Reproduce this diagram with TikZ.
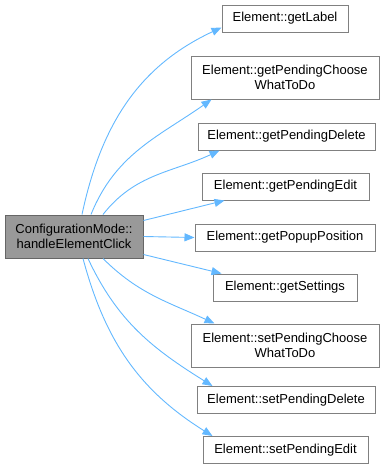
\documentclass[tikz,border=0pt]{standalone}
\usepackage{fontspec}
\setmainfont{Liberation Sans}
\usetikzlibrary{arrows.meta}
\definecolor{edgeblue}{HTML}{63B8FF}
\definecolor{boxline}{HTML}{808080}
\definecolor{mainfill}{HTML}{999999}
\definecolor{mainline}{HTML}{666666}
\tikzset{
  fn/.style={draw=boxline, fill=white, line width=1pt, inner sep=0pt,
    align=center, font=\fontsize{13}{15}\selectfont, text=black},
  mainfn/.style={fn, fill=mainfill, draw=mainline},
  call/.style={draw=edgeblue, line width=0.9pt,
    -{Triangle[length=10pt,width=8pt]}},
}
\begin{document}
\begin{tikzpicture}[x=1pt, y=-1pt]
\useasboundingbox (0,0) rectangle (384,475);

% caller
\node[mainfn, minimum width=138pt, minimum height=43pt] (main) at (74,236.5)
  {ConfigurationMode::\\handleElementClick};

% callees
\node[fn, minimum width=126pt, minimum height=27pt] (getLabel) at (285,18.5) {Element::getLabel};
\node[fn, minimum width=188pt, minimum height=43pt] (getChoose) at (285,77.5) {Element::getPendingChoose\\WhatToDo};
\node[fn, minimum width=177pt, minimum height=27pt] (getDelete) at (286.5,136.5) {Element::getPendingDelete};
\node[fn, minimum width=167pt, minimum height=27pt] (getEdit) at (285.5,186.5) {Element::getPendingEdit};
\node[fn, minimum width=180pt, minimum height=27pt] (getPopup) at (285,237.5) {Element::getPopupPosition};
\node[fn, minimum width=144pt, minimum height=27pt] (getSettings) at (285,287.5) {Element::getSettings};
\node[fn, minimum width=188pt, minimum height=43pt] (setChoose) at (285,345.5) {Element::setPendingChoose\\WhatToDo};
\node[fn, minimum width=178pt, minimum height=27pt] (setDelete) at (286,400) {Element::setPendingDelete};
\node[fn, minimum width=165pt, minimum height=27pt] (setEdit) at (285.5,450) {Element::setPendingEdit};

% call edges
\draw[call] ([xshift=8pt]main.north) to[out=78, in=205] ([yshift=-9pt]getLabel.west);
\draw[call] ([xshift=17pt]main.north) to[out=68, in=215] ([xshift=21pt]getChoose.south west);
\draw[call] ([xshift=29pt]main.north) to[out=52, in=205] ([xshift=22pt]getDelete.south west);
\draw[call] ([yshift=16pt]main.east) -- ([xshift=23pt]getEdit.south west);
\draw[call] (main.east) -- (getPopup.west);
\draw[call] ([yshift=-18pt]main.east) -- ([xshift=9pt]getSettings.north west);
\draw[call] ([xshift=29pt]main.south) to[out=-45, in=155] ([xshift=24pt]setChoose.north west);
\draw[call] ([xshift=14pt]main.south) to[out=-65, in=148] ([xshift=16pt]setDelete.north west);
\draw[call] ([xshift=9pt]main.south) to[out=-75, in=148] ([xshift=10pt]setEdit.north west);
\end{tikzpicture}
\end{document}
